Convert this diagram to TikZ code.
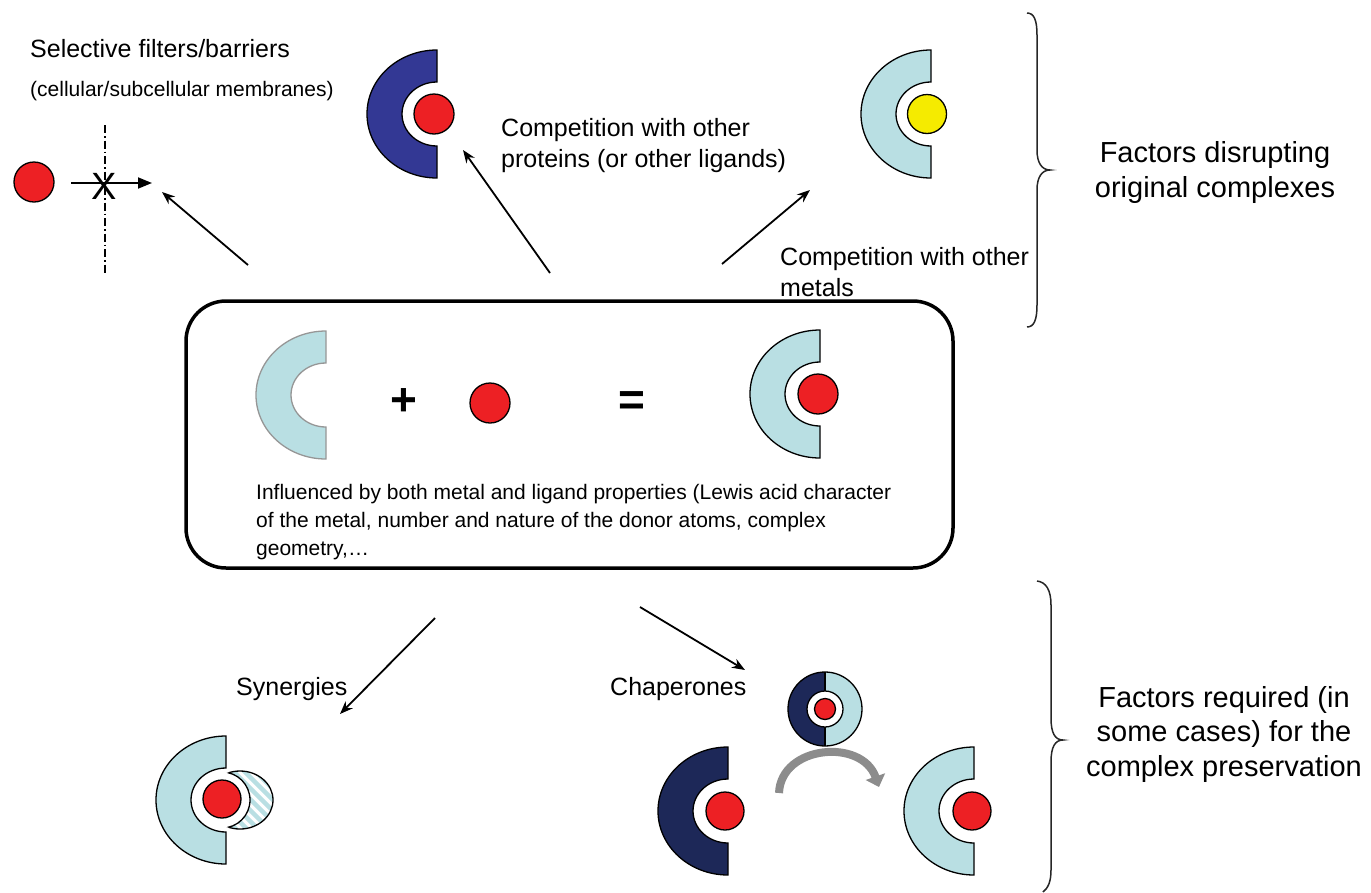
\documentclass[tikz,border=0pt]{standalone}
\usepackage{fontspec}
\setmainfont{Liberation Sans}
\usetikzlibrary{arrows.meta}
\definecolor{lb}{RGB}{185,223,227}
\definecolor{db}{RGB}{51,56,148}
\definecolor{navy}{RGB}{29,40,88}
\definecolor{metalred}{RGB}{237,32,36}
\definecolor{yel}{RGB}{245,235,0}
\definecolor{arrgray}{RGB}{140,140,140}
\definecolor{outlinegray}{RGB}{150,150,150}
\tikzset{
  metal/.style={circle, draw=black, line width=1.3pt, fill=metalred, minimum size=#1, inner sep=0pt},
  metal/.default=40pt,
  arr/.style={-{Stealth[length=13pt,width=10pt]}, line width=1.8pt},
  lbl/.style={font=\fontsize{25}{30.5}\selectfont, inner sep=0pt, align=left},
  small/.style={font=\fontsize{21}{28}\selectfont, inner sep=0pt, align=left},
  big/.style={font=\fontsize{29}{34.5}\selectfont, inner sep=0pt, align=center},
  ligand/.pic={\path[pic actions] (0,-64) arc[start angle=90,end angle=270,x radius=70pt,y radius=64pt]
      -- (0,32) arc[start angle=270,end angle=90,x radius=35pt,y radius=32pt] -- cycle;},
  cl/.style={line width=1.3pt, draw=black},
  brace/.style={line width=1.5pt, draw=black!85}
}
\begin{document}
\begin{tikzpicture}[x=1pt,y=-1pt]
\useasboundingbox (0,0) rectangle (1371,892);

% ---------- top left: selective filters
\node[lbl, anchor=base west] (tsel) at (30,57) {Selective filters/barriers};
\node[small, anchor=base west] (tcell) at (30,96) {(cellular/subcellular membranes)};
\node[metal] (m0) at (34,182) {};
\draw[line width=1.2pt, dash pattern=on 8pt off 3pt on 1.5pt off 3pt] (105,125) -- (105,275);
\coordinate (f0) at (71,183);
\coordinate (f1) at (152,183);
\draw[line width=1.8pt, -{Triangle[length=14pt,width=11pt]}] (f0) -- (f1);
\node[font=\fontsize{38}{40}\selectfont, inner sep=0pt] (xmark) at (104,186) {X};

% ---------- top center: dark blue ligand
\pic[fill=db, cl] at (437,114) {ligand};
\node[metal] (m1) at (434,114) {};
\node[lbl, anchor=base west] (tprot) at (501,167) {Competition with other\\proteins (or other ligands)};

% ---------- top right: yellow metal
\pic[fill=lb, cl] at (931,114) {ligand};
\node[circle, cl, fill=yel, minimum size=39pt, inner sep=0pt] (m2) at (927,114) {};
\node[lbl, anchor=base west] (tmet) at (780,296) {Competition with other\\metals};

% ---------- arrows from box upwards
\coordinate (a1s) at (248,265); \coordinate (a1e) at (162,192);
\coordinate (a2s) at (550,273); \coordinate (a2e) at (463,150);
\coordinate (a3s) at (722,264); \coordinate (a3e) at (810,190);
\draw[arr] (a1s) -- (a1e);
\draw[arr] (a2s) -- (a2e);
\draw[arr] (a3s) -- (a3e);

% ---------- braces and side labels
\draw[brace] (1027,13) .. controls (1034,13) and (1037,20) .. (1037,35) -- (1037,150)
  .. controls (1037,163) and (1042,170) .. (1050,170)
  .. controls (1042,170) and (1037,177) .. (1037,190) -- (1037,305)
  .. controls (1037,320) and (1034,327) .. (1027,327);
\node[big, anchor=base] (tdis) at (1215,197) {Factors disrupting\\original complexes};

\draw[brace] (1037,581) .. controls (1046,582) and (1051,590) .. (1051,605) -- (1051,718)
  .. controls (1051,733) and (1055,740) .. (1063,740)
  .. controls (1055,740) and (1051,747) .. (1051,762) -- (1051,870)
  .. controls (1051,882) and (1048,888) .. (1043,892);
\node[big, anchor=base] (treq) at (1224,776) {Factors required (in\\some cases) for the\\complex preservation};

% ---------- central box
\draw[line width=3.5pt, rounded corners=40pt] (186,301) rectangle (953,568);
\pic[fill=lb, draw=outlinegray, line width=1.3pt] at (326,395) {ligand};
\node[font=\bfseries\fontsize{46}{50}\selectfont, inner sep=0pt] (plus) at (404,402) {+};
\node[metal] (m3) at (490,403) {};
\node[font=\bfseries\fontsize{46}{50}\selectfont, inner sep=0pt] (eq) at (632,404) {=};
\pic[fill=lb, cl] at (820,394) {ligand};
\node[metal] (m4) at (818,394) {};
\node[small, anchor=base west] (tinf) at (256,555) {Influenced by both metal and ligand properties (Lewis acid character\\of the metal, number and nature of the donor atoms, complex\\geometry,…};

% ---------- arrows downward
\coordinate (a4s) at (435,618); \coordinate (a4e) at (340,714);
\coordinate (a5s) at (640,607); \coordinate (a5e) at (745,670);
\draw[arr] (a4s) -- (a4e);
\draw[arr] (a5s) -- (a5e);
\node[lbl, anchor=base west] (tsyn) at (236,695) {Synergies};
\node[lbl, anchor=base west] (tcha) at (610,695) {Chaperones};

% ---------- synergies
\pic[fill=lb, cl] at (226,800) {ligand};
\begin{scope}
  \clip (240,800) ellipse[x radius=33pt, y radius=29pt];
  \fill[white] (240,800) ellipse[x radius=33pt, y radius=29pt];
  \foreach \k in {-66,-55,...,66} {
    \draw[lb, line width=4.5pt] (240+\k-40,760) -- (240+\k+40,840);
  }
\end{scope}
\draw[cl] (240,800) ellipse[x radius=33pt, y radius=29pt];
\fill[white] (222,800) circle[radius=28pt];
\begin{scope}
  \clip (240,800) ellipse[x radius=33pt, y radius=29pt];
  \draw[cl] (222,800) circle[radius=28pt];
\end{scope}
\node[metal=38pt] (m5) at (222,799) {};

% ---------- chaperones
\fill[navy] (825,709) -- ++(0,-37) arc[start angle=90,end angle=270,radius=37pt] -- cycle;
\fill[lb] (825,709) -- ++(0,-37) arc[start angle=90,end angle=-90,radius=37pt] -- cycle;
\draw[cl] (825,709) circle[radius=37pt];
\draw[cl] (825,672) -- (825,746);
\filldraw[fill=white, cl] (825,709) circle[radius=18pt];
\node[metal=21pt] (m6) at (825,709) {};

\pic[fill=navy, cl] at (728,811) {ligand};
\node[metal=38pt] (m7) at (725,811) {};
\pic[fill=lb, cl] at (974,811) {ligand};
\node[metal=38pt] (m8) at (972,811) {};

\coordinate (g0) at (779,793);
\coordinate (g1) at (879,787);
\draw[arrgray, line width=8pt, -{Triangle[length=11pt,width=20pt]}] (g0) .. controls (781,745) and (862,738) .. (g1);
\end{tikzpicture}
\end{document}
